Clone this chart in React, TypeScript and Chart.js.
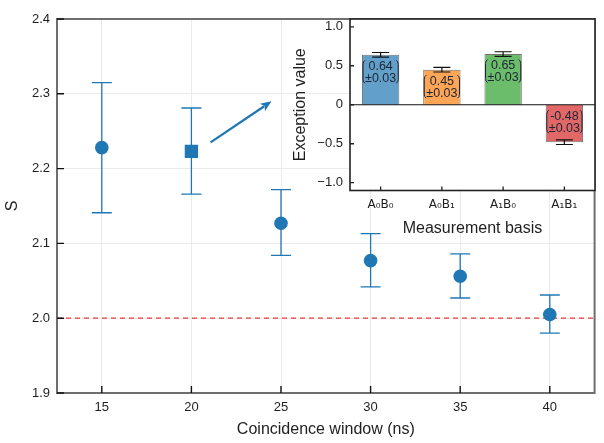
import React, { useEffect, useRef } from "react";
import { Chart, registerables } from "chart.js";
Chart.register(...registerables);

// ---------- Main chart data ----------
const WINDOWS = [15, 20, 25, 30, 35, 40];
const S_VALUES = [2.228, 2.223, 2.127, 2.077, 2.056, 2.005];
const S_UPPER = [2.315, 2.281, 2.172, 2.113, 2.086, 2.031];
const S_LOWER = [2.141, 2.166, 2.084, 2.042, 2.027, 1.98];
const MARKERS = ["circle", "rect", "circle", "circle", "circle", "circle"];
const X_TICKS = [15, 20, 25, 30, 35, 40];
const Y_TICKS = [1.9, 2.0, 2.1, 2.2, 2.3, 2.4];
const THRESHOLD = 2.0;
const ARROW_FROM = { x: 21.07, y: 2.235 };
const ARROW_TO = { x: 24.47, y: 2.29 };

// ---------- Inset data ----------
const BASES = ["A₀B₀", "A₀B₁", "A₁B₀", "A₁B₁"];
const EXPECTATIONS = [0.64, 0.45, 0.65, -0.48];
const EXP_ERRORS = [0.03, 0.03, 0.03, 0.03];
const INSET_Y_TICKS = [-1, -0.5, 0, 0.5, 1];
const INSET_Y_LABELS = ["−1.0", "−0.5", "0", "0.5", "1.0"];

const BLUE = "#1f77b4";
const BAR_COLORS = ["#62a0ca", "#ffa556", "#6bbc6b", "#e26868"];
const FONT = "'Liberation Sans', Arial, sans-serif";
const SUBFONT = "'DejaVu Sans', 'Liberation Sans', sans-serif";
const TEXT = "#1e1e1e";

const mainPlugin = {
  id: "mainDecor",
  beforeDatasetsDraw(chart: any) {
    const { ctx, chartArea: a, scales } = chart;
    const xs = scales.x, ys = scales.y;
    ctx.save();
    ctx.strokeStyle = "#e8383a";
    ctx.lineWidth = 1.3;
    ctx.setLineDash([5, 4]);
    const ty = ys.getPixelForValue(THRESHOLD);
    ctx.beginPath();
    ctx.moveTo(a.left, ty);
    ctx.lineTo(a.right, ty);
    ctx.stroke();
    ctx.setLineDash([]);
    ctx.strokeStyle = BLUE;
    ctx.lineWidth = 1.3;
    WINDOWS.forEach((w, i) => {
      const x = xs.getPixelForValue(w);
      const y1 = ys.getPixelForValue(S_UPPER[i]);
      const y2 = ys.getPixelForValue(S_LOWER[i]);
      ctx.beginPath();
      ctx.moveTo(x, y1);
      ctx.lineTo(x, y2);
      ctx.moveTo(x - 10, y1);
      ctx.lineTo(x + 10, y1);
      ctx.moveTo(x - 10, y2);
      ctx.lineTo(x + 10, y2);
      ctx.stroke();
    });
    ctx.restore();
  },
  afterDatasetsDraw(chart: any) {
    const { ctx, scales } = chart;
    const xs = scales.x, ys = scales.y;
    const x0 = xs.getPixelForValue(ARROW_FROM.x), y0 = ys.getPixelForValue(ARROW_FROM.y);
    const x1 = xs.getPixelForValue(ARROW_TO.x), y1 = ys.getPixelForValue(ARROW_TO.y);
    const ang = Math.atan2(y1 - y0, x1 - x0);
    const hl = 11, hw = 4.5;
    const c = Math.cos(ang), s = Math.sin(ang);
    ctx.save();
    ctx.strokeStyle = BLUE;
    ctx.fillStyle = BLUE;
    ctx.lineWidth = 2.3;
    ctx.beginPath();
    ctx.moveTo(x0, y0);
    ctx.lineTo(x1 - c * hl * 0.8, y1 - s * hl * 0.8);
    ctx.stroke();
    ctx.beginPath();
    ctx.moveTo(x1, y1);
    ctx.lineTo(x1 - c * hl - s * hw, y1 - s * hl + c * hw);
    ctx.lineTo(x1 - c * hl * 0.75, y1 - s * hl * 0.75);
    ctx.lineTo(x1 - c * hl + s * hw, y1 - s * hl - c * hw);
    ctx.closePath();
    ctx.fill();
    ctx.restore();
  },
  afterDraw(chart: any) {
    const { ctx, chartArea: a, scales } = chart;
    ctx.save();
    ctx.strokeStyle = "#6e6e6e";
    ctx.lineWidth = 2;
    ctx.strokeRect(a.left, a.top, a.right - a.left, a.bottom - a.top);
    ctx.strokeStyle = "#111";
    ctx.lineWidth = 1.4;
    ctx.beginPath();
    X_TICKS.forEach((v) => {
      const x = scales.x.getPixelForValue(v);
      ctx.moveTo(x, a.bottom);
      ctx.lineTo(x, a.bottom - 7);
    });
    Y_TICKS.forEach((v) => {
      const y = scales.y.getPixelForValue(v);
      ctx.moveTo(a.left, y);
      ctx.lineTo(a.left + 7, y);
    });
    ctx.stroke();
    ctx.restore();
  },
};

const insetPlugin = {
  id: "insetDecor",
  beforeDraw(chart: any) {
    const { ctx, chartArea: a } = chart;
    ctx.save();
    ctx.fillStyle = "#fff";
    ctx.fillRect(a.left, a.top, a.right - a.left, a.bottom - a.top);
    ctx.restore();
  },
  afterDatasetsDraw(chart: any) {
    const { ctx, chartArea: a, scales } = chart;
    const ys = scales.y;
    const meta = chart.getDatasetMeta(0);
    ctx.save();
    const zy = ys.getPixelForValue(0);
    ctx.strokeStyle = "#111";
    ctx.lineWidth = 1.2;
    ctx.beginPath();
    ctx.moveTo(a.left, zy);
    ctx.lineTo(a.right, zy);
    ctx.stroke();
    EXPECTATIONS.forEach((v, i) => {
      const el = meta.data[i];
      const { x, y, base } = el.getProps(["x", "y", "base"], true);
      const e1 = ys.getPixelForValue(v + EXP_ERRORS[i]);
      const e2 = ys.getPixelForValue(v - EXP_ERRORS[i]);
      ctx.strokeStyle = "#111";
      ctx.lineWidth = 1.2;
      ctx.beginPath();
      ctx.moveTo(x, e1);
      ctx.lineTo(x, e2);
      ctx.moveTo(x - 8.5, e1);
      ctx.lineTo(x + 8.5, e1);
      ctx.moveTo(x - 8.5, e2);
      ctx.lineTo(x + 8.5, e2);
      ctx.stroke();
      const top = Math.min(y, base);
      const l1 = v.toFixed(2);
      const l2 = "±" + EXP_ERRORS[i].toFixed(2);
      ctx.font = `12.5px ${FONT}`;
      ctx.fillStyle = "#1c2636";
      ctx.textAlign = "center";
      ctx.textBaseline = "middle";
      ctx.fillText(l1, x, top + 11.6);
      ctx.fillText(l2, x, top + 23.4);
      const w = Math.max(ctx.measureText(l1).width, ctx.measureText(l2).width);
      const bl = x - w / 2 - 2, br = x + w / 2 + 2;
      const bt = top + 5.5, bb = top + 28.5;
      ctx.strokeStyle = "#1c2636";
      ctx.lineWidth = 1;
      ctx.beginPath();
      ctx.moveTo(bl + 2, bt);
      ctx.quadraticCurveTo(bl, bt + 1, bl, bt + 4);
      ctx.lineTo(bl, bb - 4);
      ctx.quadraticCurveTo(bl, bb - 1, bl + 2, bb);
      ctx.moveTo(br - 2, bt);
      ctx.quadraticCurveTo(br, bt + 1, br, bt + 4);
      ctx.lineTo(br, bb - 4);
      ctx.quadraticCurveTo(br, bb - 1, br - 2, bb);
      ctx.stroke();
    });
    ctx.restore();
  },
  afterDraw(chart: any) {
    const { ctx, chartArea: a, scales } = chart;
    ctx.save();
    ctx.strokeStyle = "#222";
    ctx.lineWidth = 1.6;
    ctx.strokeRect(a.left, a.top, a.right - a.left, a.bottom - a.top);
    ctx.lineWidth = 1.3;
    ctx.beginPath();
    BASES.forEach((_, i) => {
      const x = scales.x.getPixelForValue(i);
      ctx.moveTo(x, a.bottom);
      ctx.lineTo(x, a.bottom - 4);
    });
    INSET_Y_TICKS.forEach((v) => {
      const y = scales.y.getPixelForValue(v);
      ctx.moveTo(a.left, y);
      ctx.lineTo(a.left + 4, y);
    });
    ctx.stroke();
    ctx.restore();
  },
};

export default function App() {
  const mainRef = useRef<HTMLCanvasElement>(null);
  const insetRef = useRef<HTMLCanvasElement>(null);

  useEffect(() => {
    const main = new Chart(mainRef.current as HTMLCanvasElement, {
      type: "scatter",
      data: {
        datasets: [
          {
            data: WINDOWS.map((x, i) => ({ x, y: S_VALUES[i] })),
            pointStyle: MARKERS as any,
            pointRadius: MARKERS.map((m) => (m === "rect" ? 9.4 : 6.8)),
            backgroundColor: BLUE,
            borderColor: BLUE,
            borderWidth: 0,
          },
        ],
      },
      options: {
        responsive: false,
        animation: false,
        layout: { padding: { top: 19, right: 9, left: 0, bottom: 0 } },
        plugins: { legend: { display: false }, tooltip: { enabled: false } },
        scales: {
          x: {
            type: "linear",
            min: 12.5,
            max: 42.5,
            afterBuildTicks: (s: any) => {
              s.ticks = X_TICKS.map((v) => ({ value: v }));
            },
            afterFit: (s: any) => {
              s.height = 50;
            },
            grid: { color: "#ebebeb", drawTicks: false },
            border: { display: false },
            ticks: { padding: 7, color: TEXT, font: { family: FONT, size: 13 } },
            title: {
              display: true,
              text: "Coincidence window (ns)",
              color: TEXT,
              font: { family: FONT, size: 16 },
              padding: { top: 0, bottom: 3.5 },
            },
          },
          y: {
            type: "linear",
            min: 1.9,
            max: 2.4,
            afterBuildTicks: (s: any) => {
              s.ticks = Y_TICKS.map((v) => ({ value: v }));
            },
            afterFit: (s: any) => {
              s.width = 57;
            },
            grid: { color: "#ebebeb", drawTicks: false },
            border: { display: false },
            ticks: {
              padding: 7,
              color: TEXT,
              font: { family: FONT, size: 13 },
              callback: (v: any) => Number(v).toFixed(1),
            },
            title: {
              display: true,
              text: "S",
              color: TEXT,
              font: { family: FONT, size: 16 },
              padding: { top: 2.5, bottom: 0 },
            },
          },
        },
      },
      plugins: [mainPlugin],
    });

    const inset = new Chart(insetRef.current as HTMLCanvasElement, {
      type: "bar",
      data: {
        labels: BASES,
        datasets: [
          {
            data: EXPECTATIONS,
            backgroundColor: BAR_COLORS,
            borderColor: "rgba(80,80,80,0.8)",
            borderWidth: 1,
            barPercentage: 0.61,
            categoryPercentage: 1,
          },
        ],
      },
      options: {
        responsive: false,
        animation: false,
        layout: { padding: { top: 19, right: 9, left: 0, bottom: 0 } },
        plugins: { legend: { display: false }, tooltip: { enabled: false } },
        scales: {
          x: {
            afterFit: (s: any) => {
              s.height = 54.5;
            },
            grid: { display: false, drawTicks: false },
            border: { display: false },
            ticks: { padding: 7, color: TEXT, font: { family: SUBFONT, size: 12 } },
            title: {
              display: true,
              text: "Measurement basis",
              color: TEXT,
              font: { family: FONT, size: 16 },
              padding: { top: 0, bottom: 7 },
            },
          },
          y: {
            type: "linear",
            min: -1.1,
            max: 1.1,
            afterBuildTicks: (s: any) => {
              s.ticks = INSET_Y_TICKS.map((v) => ({ value: v }));
            },
            afterFit: (s: any) => {
              s.width = 64;
            },
            grid: { display: false, drawTicks: false },
            border: { display: false },
            ticks: {
              padding: 7,
              color: TEXT,
              font: { family: FONT, size: 13 },
              callback: (v: any) => INSET_Y_LABELS[INSET_Y_TICKS.indexOf(Number(v))],
            },
            title: {
              display: true,
              text: "Exception value",
              color: TEXT,
              font: { family: FONT, size: 16 },
              padding: { top: 4.5, bottom: 0 },
            },
          },
        },
      },
      plugins: [insetPlugin],
    });

    return () => {
      main.destroy();
      inset.destroy();
    };
  }, []);

  return (
    <div style={{ position: "absolute", left: 0, top: 0, width: 604, height: 443, background: "#fff" }}>
      <canvas ref={mainRef} width={604} height={443} style={{ position: "absolute", left: 0, top: 0 }} />
      <canvas ref={insetRef} width={318} height={245} style={{ position: "absolute", left: 286, top: 0 }} />
    </div>
  );
}
